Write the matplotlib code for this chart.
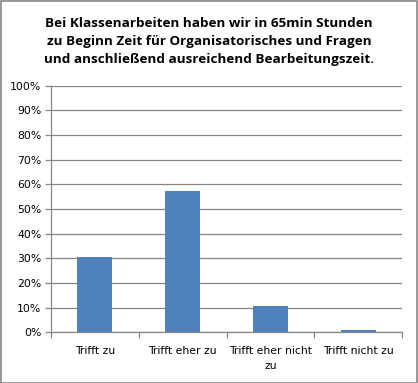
import matplotlib
matplotlib.use("Agg")
import matplotlib.pyplot as plt
from matplotlib.patches import Rectangle

categories = ["Trifft zu", "Trifft eher zu", "Trifft eher nicht\nzu", "Trifft nicht zu"]
values = [30.4, 57.4, 10.6, 0.9]
yticks = [0, 10, 20, 30, 40, 50, 60, 70, 80, 90, 100]
title = ("Bei Klassenarbeiten haben wir in 65min Stunden\n"
         "zu Beginn Zeit für Organisatorisches und Fragen\n"
         "und anschließend ausreichend Bearbeitungszeit.")

W, H = 418, 383
fig = plt.figure(figsize=(W/100, H/100), dpi=100)
fig.patch.set_facecolor("white")
fig.add_artist(Rectangle((0.5/W, 0.5/H), 1-1.5/W, 1-1.5/H, transform=fig.transFigure,
                         fill=False, edgecolor="#868686", linewidth=1.2))

ax = fig.add_axes([51/W, (H-332.3)/H, (402-51)/W, (332.3-85.7)/H])
x = list(range(len(categories)))
ax.bar(x, values, width=0.4, color="#4F81BD", zorder=3)
ax.set_xlim(-0.5, len(categories)-0.5)
ax.set_ylim(0, 100)
ax.set_yticks(yticks)
ax.set_yticklabels([f"{v}%" for v in yticks], fontsize=7.8, family="DejaVu Sans")
ax.yaxis.grid(True, color="#868686", linewidth=0.9, zorder=0)
ax.set_xticks(x)
ax.set_xticklabels(categories, fontsize=7.8, family="DejaVu Sans", linespacing=1.6)
ax.set_xticks([i+0.5 for i in range(-1, len(categories))], minor=True)
ax.tick_params(axis="x", which="major", length=0, pad=10)
ax.tick_params(axis="x", which="minor", length=4, color="#868686", width=0.9)
ax.tick_params(axis="y", length=4, color="#868686", width=0.9, pad=3)
for s in ["top", "right"]:
    ax.spines[s].set_visible(False)
for s in ["left", "bottom"]:
    ax.spines[s].set_color("#868686")
    ax.spines[s].set_linewidth(0.9)

fig.text(0.5, 1-41.5/H, title, ha="center", va="center", fontsize=9.7,
         fontweight="bold", family="Open Sans", linespacing=1.5)

fig.savefig("out.png", dpi=100)
